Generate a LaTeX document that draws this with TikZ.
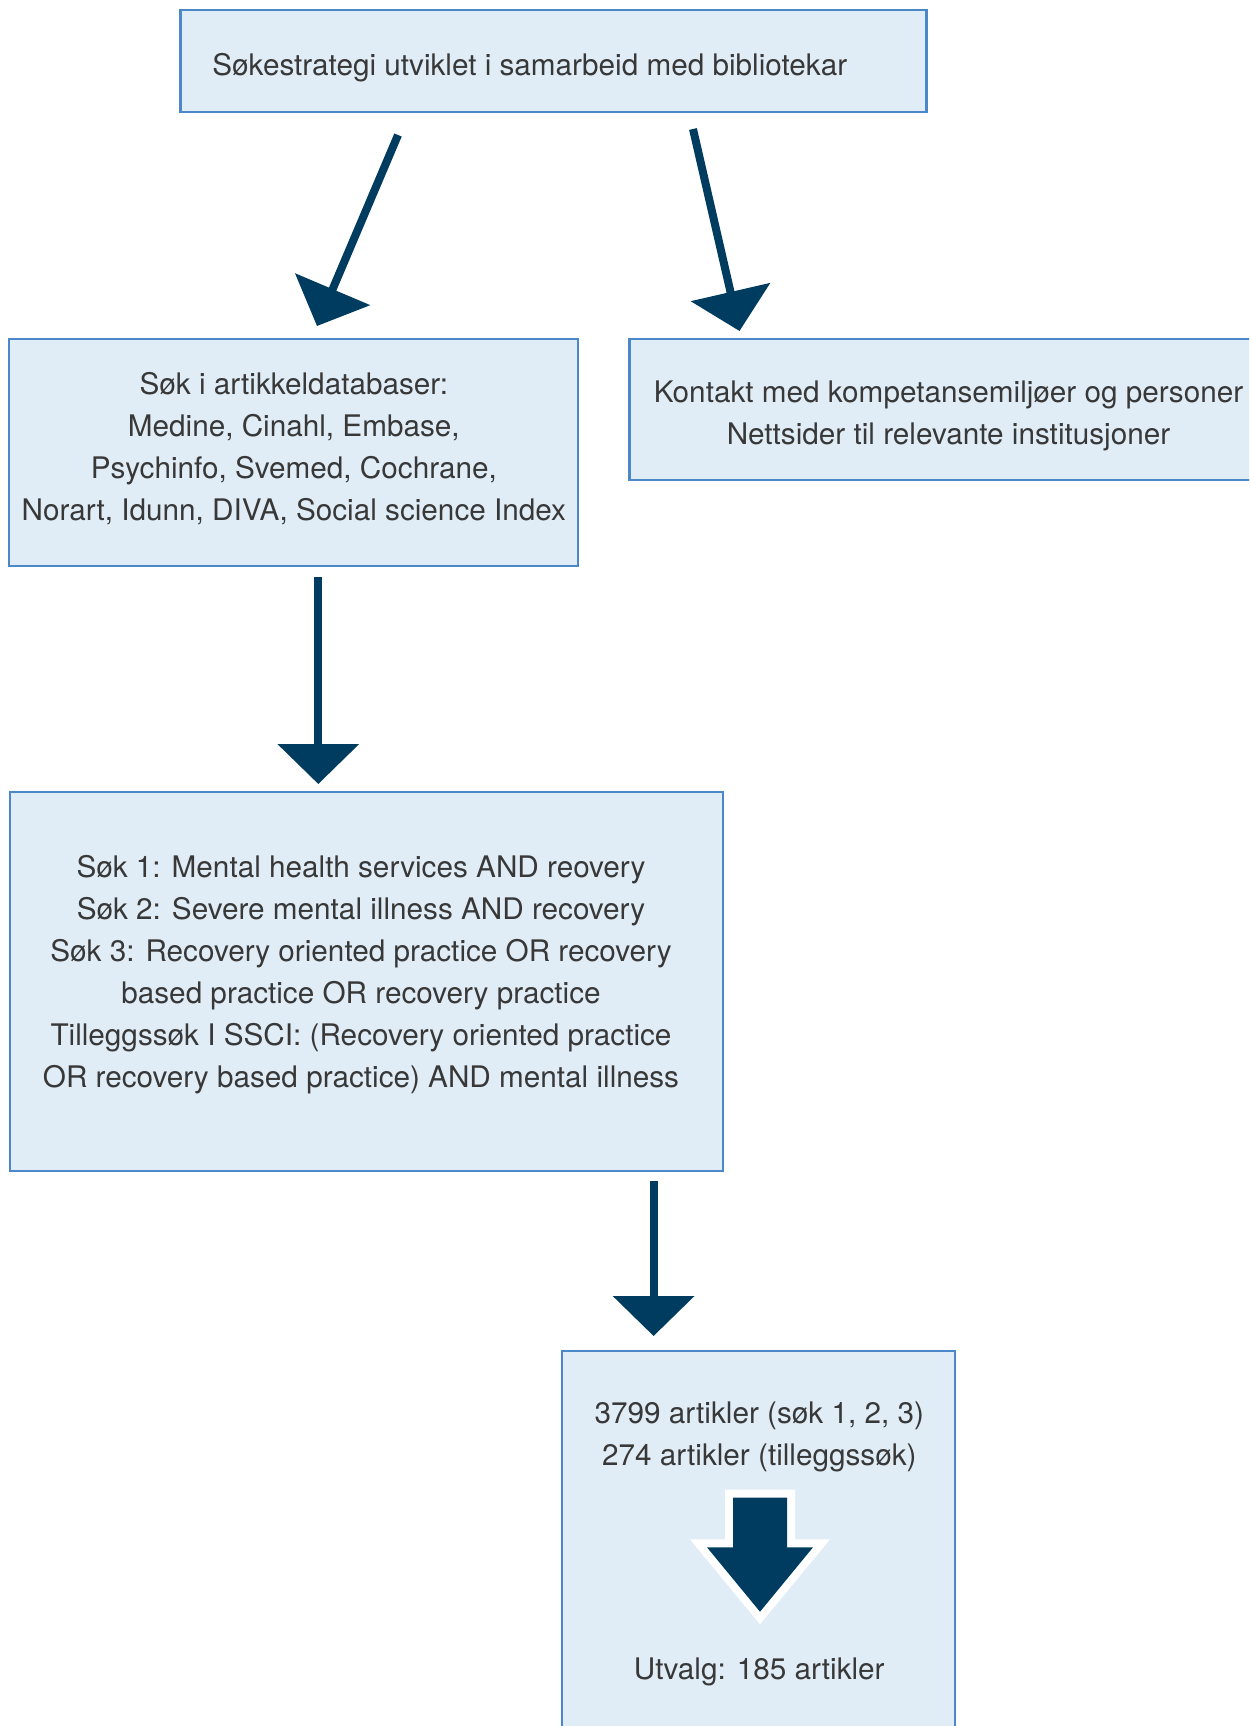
\documentclass[tikz,border=0pt]{standalone}
\usepackage{fontspec}
\setmainfont{TeX Gyre Heros}
\usetikzlibrary{arrows.meta}

\definecolor{boxfill}{HTML}{E1EDF6}
\definecolor{boxline}{HTML}{4A88C9}
\definecolor{navy}{HTML}{003C5F}
\definecolor{txtgray}{HTML}{383838}

\tikzset{
  box/.style={draw=boxline,fill=boxfill,line width=1.3pt,rectangle,inner sep=0pt},
  txt/.style={text=txtgray,align=center,inner sep=0pt,font=\fontsize{14.85}{21}\selectfont},
  flow/.style={draw=navy,line width=4pt,-{Triangle[length=20pt,width=40pt]}}
}

\begin{document}
\begin{tikzpicture}[x=0.5pt,y=-0.5pt]

  \clip (0,0) rectangle (1249,1726);
  \fill[white] (0,0) rectangle (1249,1726);

  \draw (553.5,61) node[box,minimum width=373pt,minimum height=51pt] (strat) {};
  \draw (293.5,452.5) node[box,minimum width=284.5pt,minimum height=113.5pt] (db) {};
  \draw (947.75,409.5) node[box,minimum width=318pt,minimum height=70.5pt] (contact) {};
  \draw (366.5,981.5) node[box,minimum width=356.5pt,minimum height=189.5pt] (search) {};
  \draw (758.5,1575.5) node[box,minimum width=196.5pt,minimum height=224.5pt] (count) {};

  \draw (212,67.5) node[txt,anchor=west] (strattxt) {Søkestrategi utviklet i samarbeid med bibliotekar};
  \draw (293.8,448.5) node[txt] (dbtxt) {Søk i artikkeldatabaser:\\Medine, Cinahl, Embase,\\Psychinfo, Svemed, Cochrane,\\Norart, Idunn, DIVA, Social science Index};
  \draw (948.5,416) node[txt] (contacttxt) {Kontakt med kompetansemiljøer og personer\\Nettsider til relevante institusjoner};
  \draw (361,974.2) node[txt] (searchtxt) {Søk 1: Mental health services AND reovery\\Søk 2: Severe mental illness AND recovery\\Søk 3: Recovery oriented practice OR recovery\\based practice OR recovery practice\\Tilleggssøk I SSCI: (Recovery oriented practice\\OR recovery based practice) AND mental illness};
  \draw (759.3,1436.5) node[txt] (counttxt) {3799 artikler (søk 1, 2, 3)\\274 artikler (tilleggssøk)};
  \draw (759.3,1672) node[txt] (utvalg) {Utvalg: 185 artikler};

  \coordinate (a1s) at (398,135);
  \coordinate (a1e) at (317,326);
  \coordinate (a2s) at (693,129);
  \coordinate (a2e) at (739.5,331);
  \coordinate (a3s) at (318.3,577);
  \coordinate (a3e) at (318.3,784);
  \coordinate (a4s) at (653.6,1181);
  \coordinate (a4e) at (653.6,1336);

  \draw[flow] (a1s) -- (a1e);
  \draw[flow] (a2s) -- (a2e);
  \draw[flow] (a3s) -- (a3e);
  \draw[flow] (a4s) -- (a4e);

  % block arrow inside the last box
  \fill[navy,preaction={draw=white,line width=8pt,miter limit=10}]
    (733,1497.7) -- (787,1497.7) -- (787,1547.3) -- (813,1547.3)
    -- (760,1611.7) -- (707,1547.3) -- (733,1547.3) -- cycle;

\end{tikzpicture}
\end{document}
